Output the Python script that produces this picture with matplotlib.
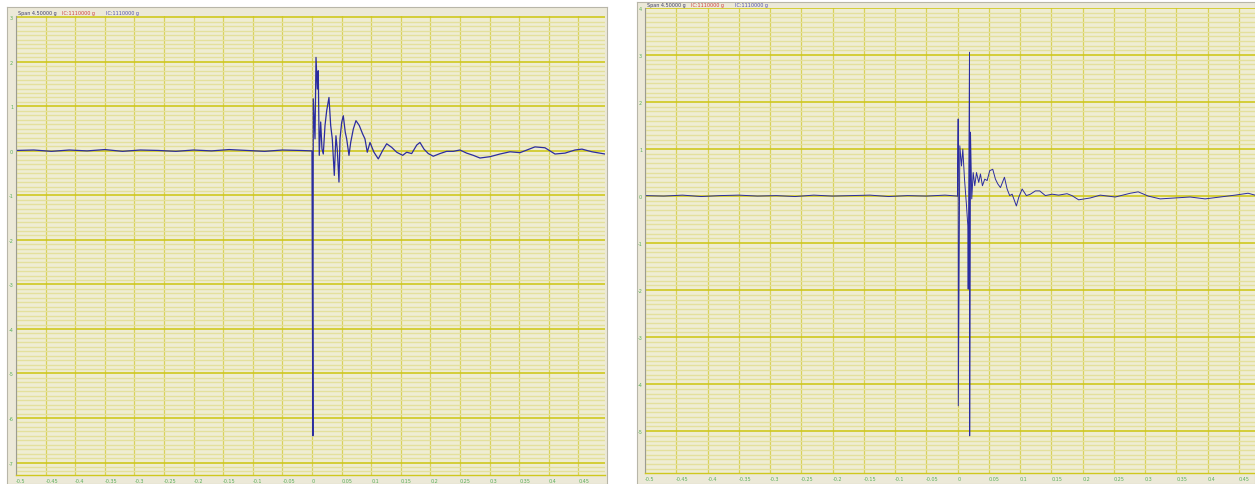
import numpy as np
import matplotlib
matplotlib.use('Agg')
from matplotlib import pyplot as plt
from matplotlib.ticker import MultipleLocator

# tick labels shared by both recordings
x_ticks = [-0.5, -0.45, -0.4, -0.35, -0.3, -0.25, -0.2, -0.15, -0.1, -0.05,
           0, 0.05, 0.1, 0.15, 0.2, 0.25, 0.3, 0.35, 0.4, 0.45]
x_labels = ['-0.5', '-0.45', '-0.4', '-0.35', '-0.3', '-0.25', '-0.2', '-0.15',
            '-0.1', '-0.05', '0', '0.05', '0.1', '0.15', '0.2', '0.25', '0.3',
            '0.35', '0.4', '0.45']

# left recording (time s, acceleration g)
left_t = [-0.5, -0.47, -0.44, -0.41, -0.38, -0.35, -0.32, -0.29, -0.26, -0.23,
          -0.2, -0.17, -0.14, -0.11, -0.08, -0.05, -0.02, 0.0, 0.0015, 0.0022,
          0.0051, 0.0068, 0.009, 0.0106, 0.0123, 0.0147, 0.0169, 0.0191, 0.022,
          0.0248, 0.0287, 0.0316, 0.0343, 0.0377, 0.0405, 0.0427, 0.0456,
          0.0473, 0.0502, 0.0529, 0.0562, 0.0586, 0.0625, 0.0654, 0.0698,
          0.0743, 0.0799, 0.0856, 0.0895, 0.0934, 0.098, 0.1047, 0.112, 0.1194,
          0.1262, 0.1346, 0.1431, 0.1532, 0.16, 0.1684, 0.1769, 0.1824, 0.1892,
          0.1965, 0.2049, 0.2162, 0.2275, 0.2387, 0.25, 0.2613, 0.2725, 0.2838,
          0.3007, 0.3176, 0.3345, 0.3514, 0.3767, 0.3936, 0.4105, 0.4274,
          0.4443, 0.4561, 0.473, 0.495]
left_g = [0.01, 0.02, -0.01, 0.02, 0.0, 0.03, -0.01, 0.02, 0.01, -0.01,
          0.02, 0.0, 0.03, 0.01, -0.01, 0.02, 0.01, 0.0, -6.4, 1.17,
          0.27, 2.1, 1.39, 1.8, -0.1, 0.65, 0.04, -0.07, 0.57,
          0.9, 1.2, 0.57, 0.27, -0.55, 0.34, 0.04, -0.7,
          0.27, 0.64, 0.79, 0.42, 0.27, -0.1, 0.19, 0.49,
          0.68, 0.57, 0.38, 0.27, -0.03, 0.19, -0.03, -0.18, 0.01,
          0.16, 0.08, -0.03, -0.1, -0.03, -0.06, 0.13, 0.19, 0.04,
          -0.06, -0.12, -0.06, -0.01, -0.01, 0.02, -0.05, -0.1, -0.16,
          -0.13, -0.07, -0.02, -0.04, 0.09, 0.07, -0.07, -0.05,
          0.02, 0.04, -0.02, -0.07]

# right recording
right_t = [-0.5, -0.47, -0.44, -0.41, -0.38, -0.35, -0.32, -0.29, -0.26, -0.23,
           -0.2, -0.17, -0.14, -0.11, -0.08, -0.05, -0.02, 0.0, 0.0011, 0.0013,
           0.0037, 0.0064, 0.0085, 0.0112, 0.0144, 0.0165, 0.0171, 0.0192,
           0.0195, 0.0208, 0.0228, 0.0251, 0.0276, 0.0304, 0.034, 0.0367,
           0.0399, 0.0436, 0.0474, 0.0516, 0.0564, 0.0607, 0.0644, 0.0687,
           0.0751, 0.0794, 0.0835, 0.0874, 0.0942, 0.0979, 0.1034, 0.1102,
           0.1166, 0.1246, 0.1315, 0.1406, 0.1513, 0.1618, 0.1752, 0.1832,
           0.1938, 0.2125, 0.2284, 0.2524, 0.2764, 0.2891, 0.3051, 0.3243,
           0.3482, 0.3722, 0.3962, 0.4201, 0.4441, 0.4649, 0.476]
right_g = [0.01, 0.0, 0.02, -0.01, 0.01, 0.02, 0.0, 0.01, -0.01, 0.02,
           0.0, 0.01, 0.02, -0.01, 0.01, 0.0, 0.02, 0.0, 1.64, -4.46,
           1.07, 0.64, 1.0, 0.36, -0.2, -0.63, -1.98, 3.06,
           -5.1, 1.36, -0.06, 0.5, 0.22, 0.5, 0.29, 0.47,
           0.22, 0.36, 0.33, 0.54, 0.57, 0.36, 0.26, 0.18,
           0.4, 0.15, 0.01, 0.04, -0.21, -0.03, 0.15, 0.01,
           0.04, 0.11, 0.11, 0.01, 0.04, 0.02, 0.05, 0.01,
           -0.08, -0.04, 0.02, -0.02, 0.06, 0.09, 0.0, -0.06,
           -0.04, -0.02, -0.06, -0.02, 0.02, 0.06, 0.02]

W, H = 1255, 485
PANEL_BG = '#ECE9D8'
PLOT_BG = '#EFEDD3'
MINOR_C = '#E4E09C'
MAJOR_H = '#CFC81E'
MAJOR_V = '#D8D25A'
LINE_C = '#2B2CA0'
TICK_C = '#5BAF5B'


def fig_rect(x0, y0, x1, y1):
    # pixel box (top-left origin) -> figure fraction
    return [x0 / W, 1 - y1 / H, (x1 - x0) / W, (y1 - y0) / H]


def draw_panel(fig, frame, plot, t, g, xlim, ylim, y_ticks, head_y, lw):
    bg = fig.add_axes(fig_rect(*frame))
    bg.set_facecolor(PANEL_BG)
    bg.set_xticks([])
    bg.set_yticks([])
    for s in bg.spines.values():
        s.set_color('#B8B6A8')
        s.set_linewidth(0.8)

    ax = fig.add_axes(fig_rect(*plot))
    ax.set_facecolor(PLOT_BG)
    ax.set_xlim(*xlim)
    ax.set_ylim(*ylim)
    ax.yaxis.set_minor_locator(MultipleLocator(0.1))
    ax.grid(which='minor', axis='y', color=MINOR_C, linewidth=1.0)
    ax.grid(which='major', axis='y', color=MAJOR_H, linewidth=1.2)
    ax.grid(which='major', axis='x', color=MAJOR_V, linewidth=0.9)
    ax.set_axisbelow(True)
    ax.set_xticks(x_ticks)
    ax.set_xticklabels(x_labels)
    ax.set_yticks(y_ticks)
    ax.set_yticklabels([str(v) for v in y_ticks])
    ax.tick_params(which='both', length=0, labelsize=3.5, colors=TICK_C, pad=2)
    for lbl in ax.get_xticklabels():
        lbl.set_horizontalalignment('left')
    for side in ['top', 'right']:
        ax.spines[side].set_visible(False)
    ax.spines['left'].set_color('#9C9C90')
    ax.spines['bottom'].set_color(MAJOR_H)
    ax.spines['left'].set_linewidth(0.8)
    ax.spines['bottom'].set_linewidth(1.0)

    ax.plot(t, g, color=LINE_C, linewidth=lw)

    # little header with channel captions
    x0 = plot[0]
    fig.text((x0 + 2) / W, 1 - head_y / H, 'Span 4.50000 g', fontsize=3.5,
             color='#40406A', va='center')
    fig.text((x0 + 46) / W, 1 - head_y / H, 'IC:1110000 g', fontsize=3.5,
             color='#D04040', va='center')
    fig.text((x0 + 90) / W, 1 - head_y / H, 'IC:1110000 g', fontsize=3.5,
             color='#5050B0', va='center')
    return ax


fig = plt.figure(figsize=(W / 100, H / 100), dpi=100)
fig.patch.set_facecolor('white')

draw_panel(fig, (7, 8, 607, 485), (16, 17, 605, 476), left_t, left_g,
           (-0.5, 0.495), (-7.28, 3.03), list(range(3, -8, -1)), 13, 0.9)
draw_panel(fig, (637, 3, 1255, 485), (645, 9, 1255, 474), right_t, right_g,
           (-0.5, 0.476), (-5.89, 4.0), list(range(4, -6, -1)), 6, 0.7)

fig.savefig('out.png', dpi=100, facecolor=fig.get_facecolor())
